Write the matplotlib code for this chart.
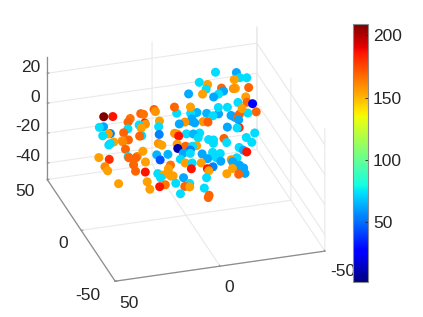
import matplotlib
matplotlib.use("Agg")
import matplotlib.pyplot as plt
from matplotlib.cm import ScalarMappable
from matplotlib.colors import Normalize

plt.rcParams["font.family"] = ["Liberation Sans", "DejaVu Sans"]

TEXT = "#262626"
AXIS = "#8c8c8c"
GRID = "#e9e9e9"

# points: x, y, z, value
x_a = [25, 21, 14, 16, 8, 7, 1, 1, 2, 30, 28, 27, 31, 28, 18, 21, 12, 12, 9, 9, 15, 14, 4, 6, 30, 31, 28, 24, 21, 24, 25,
       39, 35, 26, 26, 22, 23, 18, 20, 26, 27, 23, 39, 39, 38, 25, 26, 21, 18, 18, 18, 13, 16, 13, 12, 12, 9, 8, 13, 13, 8,
       10, 13, -1, 1, 2, -2, -2, -2, -5, -7, 1, -3, -2, 4, -7, -8, 3, 0, -4, 2, -8, -5, -5, 8, 7, 10, 8, 14, 2, -2, 2, 3,
       -12, -15, -12, -13, -18, -18, -21, -20, -21, -20, -18, -16, -12, -17, -26, -27, -25, -32, -31, -21, -21, -15, -14, -16,
       -36, -6, -9, -12, -10]
y_a = [44, 43, 39, 36, 42, 41, 44, 42, 33, 35, 35, 28, 27, 28, 30, 27, 32, 29, 33, 32, 22, 22, 28, 21, 19, 18, 20, 19, 20, 20, 12,
       8, 5, 5, 4, 4, 3, 8, -2, -3, -9, -11, -1, -5, -18, -20, -27, -26, -25, -14, -18, -14, -16, -18, -11, -18, 13, 11, 3, -2, 2,
       -8, -25, 20, 10, 6, 19, 17, 7, 6, 6, 1, 3, 0, -4, -2, -7, -8, -9, -10, -14, -15, -18, -16, -21, -27, -29, -30, -35, -33, -24, -40, -42,
       -2, -4, -7, -11, -11, -13, -10, -17, -20, -25, -19, -19, -23, -25, -4, -6, -1, 2, 7, 5, 9, 6, 10, 9,
       10, 18, 17, 17, 13]
v_a = [209, 186, 165, 168, 168, 165, 168, 158, 155, 73, 62, 54, 73, 155, 73, 168, 73, 155, 186, 158, 168, 73, 73, 54, 73, 73, 155, 160, 168, 155, 168,
       155, 180, 73, 168, 160, 168, 155, 155, 168, 168, 186, 160, 155, 155, 155, 155, 186, 165, 73, 73, 155, 155, 155, 155, 155, 158, 155, 65, 45, 65,
       165, 73, 158, 155, 10, 158, 186, 168, 73, 155, 62, 54, 73, 73, 62, 62, 155, 73, 155, 186, 54, 155, 186, 62, 73, 168, 155, 73, 73, 73, 168, 168,
       73, 73, 73, 62, 158, 62, 73, 62, 62, 62, 62, 155, 155, 168, 62, 186, 73, 73, 73, 73, 170, 73, 73, 73,
       73, 73, 65, 73, 73]

x_b = [-3, -12, -16, -9, -1, -4, -7, -8, -12, -14, -8, -18, -21, -26, -28, -28, -27, -34, -30, -38, -21, -26, -25]
y_b = [23, 21, 19, 21, 13, 14, 14, 12, 12, 11, 16, 16, 17, 14, 11, 9, 12, 14, 14, 14, 4, 2, 2]
v_b = [73, 65, 65, 73, 62, 158, 62, 62, 158, 170, 62, 73, 62, 62, 168, 62, 62, 73, 168, 168, 62, 180, 73]

x_c = [1, -6, -17, -9, -20, -18, -15, -27, -36, -36, -39, -33, -25, -25, -30, -31, -37, -22, -19, -33, -28, -32, -34, -28, -18, -22]
y_c = [14, 12, 33, 24, 30, 26, 22, 40, 37, 32, 31, 31, 25, 22, 23, 23, 22, 20, 18, 14, 10, 9, 7, 4, 8, 7]
v_c = [168, 155, 73, 62, 155, 73, 155, 73, 62, 73, 73, 155, 168, 62, 158, 155, 168, 73, 62, 155, 73, 168, 25, 155, 73, 73]

x_vals = x_a + x_b + x_c
y_vals = y_a + y_b + y_c
z_vals = [-10] * len(x_a) + [1] * len(x_b) + [12] * len(x_c)
values = v_a + v_b + v_c

x_ticks = [-50, 0, 50]
y_ticks = [-50, 0, 50]
z_ticks = [-40, -20, 0, 20]
cbar_ticks = [50, 100, 150, 200]
c_min, c_max = 2, 209

W, H = 423, 317
fig = plt.figure(figsize=(W / 100, H / 100), dpi=100)

side = 336.5
cx, cy = 181.5, 158.5
ax = fig.add_axes([(cx - side / 2) / W, (H - cy - side / 2) / H, side / W, side / H], projection="3d")
ax.patch.set_alpha(0)
ax.set_proj_type("ortho")
ax.view_init(elev=27.6, azim=-107.2)
ax.set_box_aspect((214, 224, 135))
ax.set_xlim(50, -50, view_margin=0)
ax.set_ylim(-50, 50, view_margin=0)
ax.set_zlim(-51, 31, view_margin=0)

norm = Normalize(c_min, c_max)
ax.scatter(x_vals, y_vals, z_vals, c=values, cmap="jet", norm=norm, s=42, linewidths=0, alpha=1, depthshade=False)

ax.set_xticks(x_ticks, labels=[])
ax.set_yticks(y_ticks, labels=[])
ax.set_zticks(z_ticks, labels=[])
for a in (ax.xaxis, ax.yaxis, ax.zaxis):
    a.set_pane_color((1, 1, 1, 0))
    a.pane.set_edgecolor("none")
    a.line.set_color(AXIS)
    a.line.set_linewidth(0.9)
    a._axinfo["grid"].update(color=GRID, linewidth=0.8)
    a._axinfo["tick"].update(inward_factor=0, outward_factor=0.1)
    a._axinfo["tick"]["color"] = AXIS
ax.tick_params(color=AXIS, width=0.7)


# tick labels sit where the picture has them; zorder below the axes so the
# colorbar covers the end of the last x label, as in the original
def tick_text(px, py, s, ha="center"):
    fig.text(px / W, 1 - py / H, s, ha=ha, va="center", fontsize=12.5, color=TEXT, zorder=-1)


for py, t in zip([156, 127, 97, 67], z_ticks):
    tick_text(40, py, str(t), ha="right")
for px, py, t in zip([88, 63, 25], [296, 244, 192], y_ticks):
    tick_text(px, py, str(t))
for px, py, t in zip([343, 229, 129], [272, 288, 303], x_ticks):
    tick_text(px, py, str(t))

cax = fig.add_axes([353 / W, (H - 282) / H, 15 / W, 258 / H])
cbar = fig.colorbar(ScalarMappable(norm=norm, cmap="jet"), cax=cax, ticks=cbar_ticks)
cbar.ax.tick_params(labelsize=12.5, labelcolor=TEXT, direction="in", length=2, width=0.6, color=TEXT, pad=3.5)
cbar.outline.set_edgecolor(AXIS)
cbar.outline.set_linewidth(0.8)

fig.savefig("out.png", dpi=100)
